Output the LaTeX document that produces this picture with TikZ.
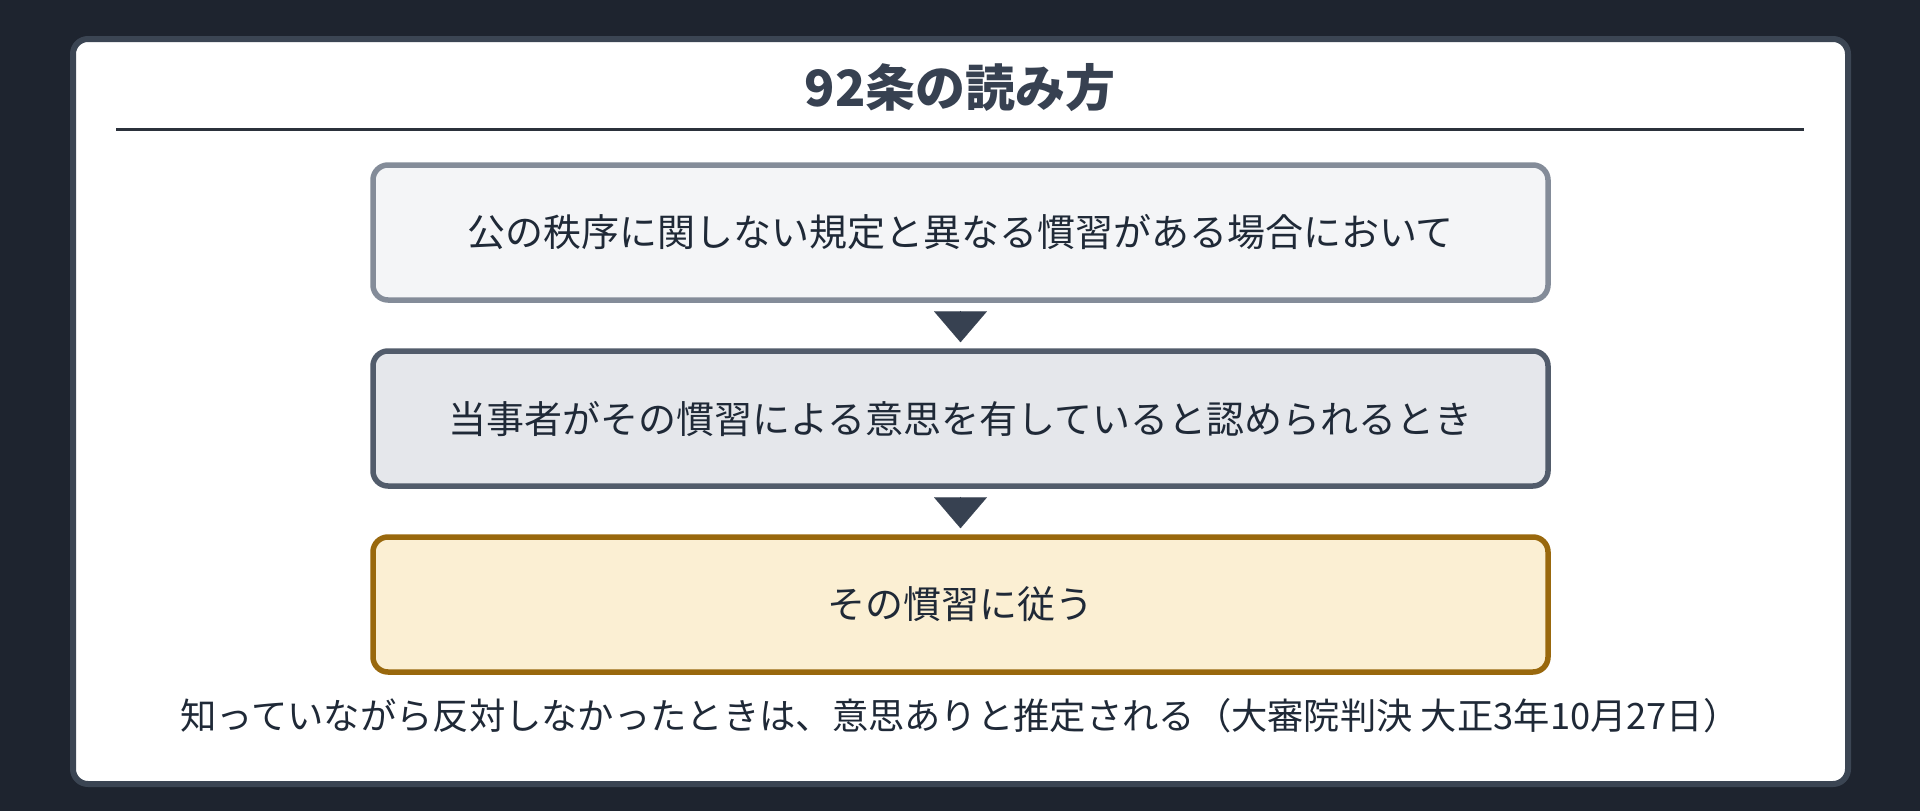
\documentclass[tikz,border=0pt]{standalone}
\usepackage{fontspec}
\setmainfont{Noto Sans CJK JP}
\usetikzlibrary{arrows.meta,positioning}
\definecolor{pagebg}{HTML}{1E242F}
\definecolor{panelline}{HTML}{3B4553}
\definecolor{rulecol}{HTML}{2B313B}
\definecolor{titlecol}{HTML}{374151}
\definecolor{textcol}{HTML}{1F2937}
\definecolor{condfill}{HTML}{F4F5F7}
\definecolor{condline}{HTML}{848C99}
\definecolor{intfill}{HTML}{E5E7EB}
\definecolor{intline}{HTML}{525C6B}
\definecolor{resfill}{HTML}{FBEFD3}
\definecolor{resline}{HTML}{99680D}
\tikzset{stepbox/.style={rectangle, rounded corners=15pt, line width=5.5pt,
minimum width=1175pt, minimum height=135pt, inner sep=0pt,
text=textcol, font=\fontsize{38}{46}\selectfont},
flow/.style={-{Triangle[width=53pt,length=31pt]}, draw=titlecol, fill=titlecol,
line width=0.1pt, shorten <=8pt, shorten >=6pt}}

\begin{document}
\begin{tikzpicture}[x=1pt, y=-1pt]
        \fill[pagebg] (0,0) rectangle (1920,811);
        \useasboundingbox (0,0) rectangle (1920,811);
        \node[rectangle, rounded corners=15pt, line width=6pt, draw=panelline, fill=white,
              minimum width=1775pt, minimum height=745pt] (panel) at (960.5, 411.5) {};
        \node[font=\fontsize{50}{60}\selectfont\bfseries, text=titlecol] (title) at (960, 88) {92条の読み方};
        \draw[rulecol, line width=3pt] (116,129) -- (1804,129);
        
        \node[stepbox, draw=condline, fill=condfill] (cond) at (960.5, 232.5) {公の秩序に関しない規定と異なる慣習がある場合において};
        \node[stepbox, draw=intline, fill=intfill] (intent) at (960.5, 418.5) {当事者がその慣習による意思を有していると認められるとき};
        \node[stepbox, draw=resline, fill=resfill] (result) at (960.5, 604.5) {その慣習に従う};
        \node[font=\fontsize{36.3}{44}\selectfont, text=textcol] (note) at (960, 716) {知っていながら反対しなかったときは、意思ありと推定される（大審院判決 大正3年10月27日）};
        
        \draw[flow] (cond) -- (intent);
        \draw[flow] (intent) -- (result);
    \end{tikzpicture}
\end{document}
